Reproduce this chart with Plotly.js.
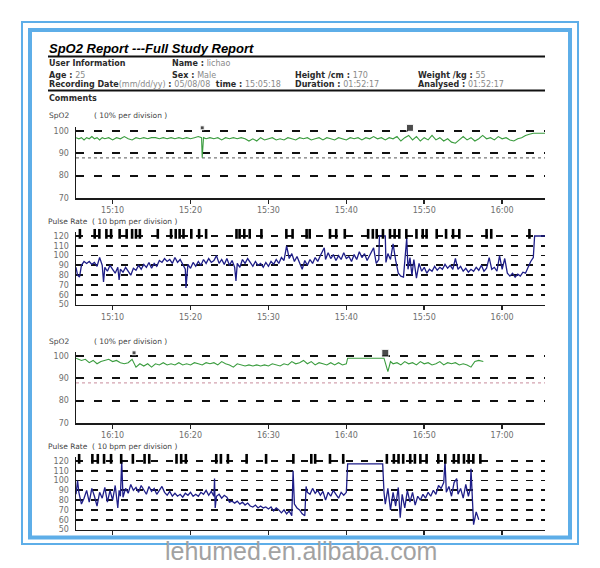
<!DOCTYPE html>
<html>
<head>
<meta charset="utf-8">
<script src="https://cdn.plot.ly/plotly-3.0.1.min.js"></script>
<style>
  html, body { margin: 0; padding: 0; background: #ffffff; }
  #chart { width: 600px; height: 568px; }
</style>
</head>
<body>
<div id="chart"></div>
<script>
// ---- Recording: SpO2 full study report ----
const DAY = '2008-05-08';
const LOW_ALARM = 88;          // SpO2 dotted reference level

const spo2TicksVals = [70, 80, 90, 100];
const pulseTickVals = [50, 60, 70, 80, 90, 100, 110, 120];

// Page 1 window: 15:05:18 .. 16:05:30
const spo2A_t = ['15:05:18','15:05:40','15:06:00','15:06:20','15:06:40','15:07:00','15:07:20','15:07:40','15:08:00','15:08:20','15:08:40','15:09:00','15:09:30','15:10:00','15:10:30','15:11:00','15:11:30','15:12:00','15:12:30','15:13:00','15:13:30','15:14:00','15:14:30','15:15:00','15:15:30','15:16:00','15:16:30','15:17:00','15:17:30','15:18:00','15:18:30','15:19:00','15:19:30','15:20:00','15:20:30','15:21:00','15:21:25','15:21:30','15:21:40','15:22:00','15:22:30','15:23:00','15:23:30','15:24:00','15:24:30','15:25:00','15:25:30','15:26:00','15:26:30','15:27:00','15:27:30','15:28:00','15:28:30','15:29:00','15:29:30','15:30:00','15:30:30','15:31:00','15:31:30','15:32:00','15:32:30','15:33:00','15:33:30','15:34:00','15:34:30','15:35:00','15:35:30','15:36:00','15:36:30','15:37:00','15:37:30','15:38:00','15:38:30','15:39:00','15:39:30','15:40:00','15:40:30','15:41:00','15:41:30','15:42:00','15:42:30','15:43:00','15:43:30','15:44:00','15:44:30','15:45:00','15:45:30','15:46:00','15:46:30','15:47:00','15:47:30','15:48:00','15:48:30','15:49:00','15:49:30','15:50:00','15:50:30','15:51:00','15:51:30','15:52:00','15:52:30','15:53:00','15:53:30','15:54:00','15:54:30','15:55:00','15:55:30','15:56:00','15:56:30','15:57:00','15:57:30','15:58:00','15:58:30','15:59:00','15:59:30','16:00:00','16:00:30','16:01:00','16:01:30','16:02:00','16:02:30','16:03:00','16:03:30','16:04:00','16:05:00','16:05:30'];
const spo2A_v = [97,96.5,97,96,97,96.5,97.5,96.5,97,96,97,96.5,97,96,97,96.5,97.5,96.5,96,97,96.5,97,96.5,97,97,96.5,97,96.5,97,96.5,97,96.5,97,96.5,97,97.5,97,88,97,96.5,97,96.5,97,96,97,96.5,97,96.5,97,96.5,95.5,96.5,95.5,97,96,96.5,97,96,96.5,96,97,96.5,96,97,96.5,97,96,96.5,97,96,97,96.5,96,97,96.5,96,97,96.5,97,96,97,96.5,97.5,96.5,97,96,97,96.5,97.5,95.5,97,98,96,97.5,95.5,97,96,98,96,97,95.5,96.5,95,94.5,96,97.5,96,97,95.5,96.5,98,96.5,97,96,97.5,96.5,97,96,95.5,96.5,97,98,98.5,99,99,99];
const spo2A_events = ['15:21:30', '15:48:10'];

const pulseA_t = ['15:05:18','15:05:30','15:05:45','15:06:00','15:06:20','15:06:40','15:07:00','15:07:20','15:07:40','15:08:00','15:08:20','15:08:40','15:08:50','15:09:00','15:09:20','15:09:40','15:10:00','15:10:20','15:10:40','15:10:50','15:11:00','15:11:20','15:11:40','15:12:00','15:12:20','15:12:40','15:13:00','15:13:20','15:13:40','15:14:00','15:14:20','15:14:40','15:15:00','15:15:20','15:15:40','15:16:00','15:16:20','15:16:40','15:17:00','15:17:20','15:17:40','15:18:00','15:18:20','15:18:40','15:19:00','15:19:20','15:19:25','15:19:40','15:20:00','15:20:20','15:20:40','15:21:00','15:21:20','15:21:40','15:22:00','15:22:20','15:22:40','15:23:00','15:23:20','15:23:40','15:24:00','15:24:20','15:24:40','15:25:00','15:25:20','15:25:40','15:25:50','15:26:00','15:26:20','15:26:40','15:27:00','15:27:20','15:27:40','15:28:00','15:28:20','15:28:40','15:29:00','15:29:20','15:29:40','15:30:00','15:30:20','15:30:40','15:31:00','15:31:20','15:31:40','15:32:00','15:32:20','15:32:40','15:33:00','15:33:20','15:33:40','15:34:00','15:34:20','15:34:40','15:35:00','15:35:20','15:35:40','15:36:00','15:36:20','15:36:40','15:37:10','15:37:20','15:37:40','15:38:00','15:38:20','15:38:40','15:39:00','15:39:20','15:39:40','15:40:00','15:40:20','15:40:40','15:41:00','15:41:20','15:41:40','15:42:00','15:42:20','15:42:40','15:43:00','15:43:30','15:43:50','15:44:10','15:44:15','15:45:00','15:45:05','15:45:20','15:45:40','15:46:00','15:46:20','15:46:40','15:47:00','15:47:20','15:47:45','15:47:55','15:48:10','15:48:25','15:48:40','15:49:00','15:49:20','15:49:40','15:50:00','15:50:20','15:50:40','15:51:00','15:51:20','15:51:40','15:52:00','15:52:20','15:52:40','15:53:00','15:53:20','15:53:40','15:54:00','15:54:20','15:54:40','15:55:00','15:55:20','15:55:40','15:56:00','15:56:20','15:56:40','15:57:00','15:57:20','15:57:40','15:58:00','15:58:20','15:58:40','15:59:00','15:59:20','15:59:40','16:00:00','16:00:20','16:00:40','16:01:00','16:01:20','16:01:40','16:02:00','16:02:20','16:02:40','16:03:00','16:03:20','16:03:40','16:04:00','16:04:10','16:05:30'];
const pulseA_v = [88,80,78,90,94,92,94,91,93,89,98,90,73,88,84,90,86,82,88,75,86,83,88,84,80,87,85,90,86,91,88,93,87,92,89,95,93,97,94,96,92,98,93,96,91,86,67,91,87,93,89,94,90,96,92,97,93,95,100,92,96,91,97,90,95,88,74,92,88,96,92,97,93,89,94,90,92,88,93,89,94,91,96,92,98,95,110,97,102,94,99,92,86,95,90,96,92,98,94,100,108,96,103,97,101,95,100,96,103,97,99,94,101,96,104,98,102,95,100,108,92,96,120,120,93,102,96,112,95,82,79,78,118,86,98,80,96,77,92,84,88,82,86,84,89,85,88,86,91,87,90,86,97,86,89,84,87,83,86,84,88,85,90,84,87,98,86,88,84,100,86,97,82,79,82,78,81,79,83,82,88,94,98,120,120];
const pulseA_events = ['15:05:48','15:07:42','15:08:18','15:09:12','15:09:48','15:10:54','15:11:48','15:12:30','15:13:00','15:13:30','15:15:48','15:17:30','15:18:06','15:18:36','15:19:06','15:20:06','15:21:06','15:22:00','15:25:54','15:26:18','15:26:54','15:27:36','15:29:06','15:32:18','15:33:06','15:34:54','15:35:18','15:37:54','15:38:42','15:39:48','15:42:48','15:43:24','15:43:54','15:44:42','15:45:36','15:46:12','15:46:48','15:47:42','15:49:00','15:49:48','15:50:18','15:51:36','15:52:48','15:53:42','15:54:30','15:58:00','15:58:36','16:03:30'];

// Page 2 window: 16:05:18 .. 17:05:30 (recording ends 16:57:35)
const spo2B_t = ['16:05:18','16:05:40','16:06:00','16:06:30','16:07:00','16:07:30','16:08:00','16:08:30','16:09:00','16:09:30','16:10:00','16:10:30','16:11:00','16:11:30','16:12:00','16:12:30','16:13:00','16:13:30','16:14:00','16:14:30','16:15:00','16:15:30','16:16:00','16:16:30','16:17:00','16:17:30','16:18:00','16:18:30','16:19:00','16:19:30','16:20:00','16:20:30','16:21:00','16:21:30','16:22:00','16:22:30','16:23:00','16:23:30','16:24:00','16:24:30','16:25:00','16:25:30','16:26:00','16:26:30','16:27:00','16:27:30','16:28:00','16:28:30','16:29:00','16:29:30','16:30:00','16:30:30','16:31:00','16:31:30','16:32:00','16:32:30','16:33:00','16:33:30','16:34:00','16:34:30','16:35:00','16:35:30','16:36:00','16:36:30','16:37:00','16:37:30','16:38:00','16:38:30','16:39:00','16:39:30','16:40:00','16:40:10','16:44:50','16:45:00','16:45:20','16:45:40','16:46:00','16:46:30','16:47:00','16:47:30','16:48:00','16:48:30','16:49:00','16:49:30','16:50:00','16:50:30','16:51:00','16:51:30','16:52:00','16:52:30','16:53:00','16:53:30','16:54:00','16:54:30','16:55:00','16:55:30','16:56:00','16:56:30','16:57:00','16:57:35'];
const spo2B_v = [99,98.5,98,98.5,97,98,96.5,97.5,98,98.5,97.5,98,97,96.5,97,98.5,95,96.5,95.5,96.5,95,96.5,96,97,96,96.5,96,97,96,96.5,96,97,96.5,96,97,96.5,97,96,97.5,96.5,96,95,96.5,96,95.5,96,95.5,96,95.5,96,95.5,96.5,96,95.5,96.5,96,97.5,96.5,97,98,96.5,97.5,96,97,96.5,96,97,96,97,96,96.5,99,99,97,93,97.5,96.5,97,96,97.5,96.5,97,96,97.5,96.5,97,96,96.5,97.5,96,97,96.5,97,96,96.5,96,95,97.5,98,97.5];
const spo2B_events = ['16:12:45', '16:45:00'];

const pulseB_t = ['16:05:18','16:05:30','16:05:40','16:06:00','16:06:20','16:06:40','16:07:00','16:07:20','16:07:40','16:08:00','16:08:20','16:08:40','16:09:00','16:09:20','16:09:40','16:10:00','16:10:20','16:10:40','16:10:50','16:11:00','16:11:10','16:11:20','16:11:40','16:12:00','16:12:20','16:12:40','16:13:00','16:13:20','16:13:40','16:14:00','16:14:20','16:14:40','16:15:00','16:15:20','16:15:40','16:16:00','16:16:20','16:16:40','16:17:00','16:17:20','16:17:40','16:18:00','16:18:20','16:18:40','16:19:00','16:19:20','16:19:40','16:20:00','16:20:20','16:20:40','16:21:00','16:21:20','16:21:40','16:22:00','16:22:20','16:22:40','16:23:00','16:23:05','16:23:10','16:23:20','16:23:40','16:24:00','16:24:20','16:24:40','16:25:00','16:25:20','16:25:40','16:26:00','16:26:20','16:26:40','16:27:00','16:27:20','16:27:40','16:28:00','16:28:20','16:28:40','16:29:00','16:29:20','16:29:40','16:30:00','16:30:20','16:30:40','16:31:00','16:31:20','16:31:40','16:32:00','16:32:20','16:32:40','16:33:00','16:33:10','16:33:20','16:33:40','16:34:00','16:34:20','16:34:40','16:34:50','16:35:00','16:35:20','16:35:40','16:36:00','16:36:20','16:36:40','16:37:00','16:37:20','16:37:40','16:38:00','16:38:20','16:38:40','16:39:00','16:39:20','16:39:40','16:40:00','16:40:10','16:44:40','16:44:50','16:45:00','16:45:20','16:45:40','16:46:00','16:46:20','16:46:40','16:46:55','16:47:10','16:47:30','16:47:50','16:48:10','16:48:30','16:48:50','16:49:10','16:49:30','16:49:50','16:50:10','16:50:30','16:50:50','16:51:10','16:51:30','16:51:50','16:52:10','16:52:30','16:52:40','16:52:50','16:53:10','16:53:30','16:53:50','16:54:10','16:54:20','16:54:40','16:55:00','16:55:20','16:55:40','16:55:55','16:56:00','16:56:20','16:56:40','16:57:00'];
const pulseB_v = [86,100,88,76,82,90,78,92,84,74,88,82,93,78,90,80,95,72,90,84,120,83,92,87,96,90,93,88,95,90,86,94,89,92,86,90,94,88,85,89,84,87,84,86,83,87,85,88,84,86,84,88,86,90,85,89,84,102,72,84,86,82,85,83,78,79,77,79,76,78,75,77,74,73,75,72,74,72,73,71,73,69,72,70,67,70,66,69,64,110,76,72,70,66,64,94,88,86,92,87,90,85,89,80,88,84,90,86,82,88,85,88,117,117,88,76,92,70,88,74,93,62,86,72,90,78,88,75,84,80,86,82,88,84,90,86,95,92,98,120,88,94,84,98,102,86,92,82,96,84,92,112,55,68,60];
const pulseB_events = ['16:05:42','16:07:24','16:08:06','16:08:54','16:09:48','16:11:06','16:12:36','16:14:06','16:14:42','16:18:12','16:18:48','16:19:24','16:23:18','16:23:54','16:24:48','16:27:12','16:29:42','16:33:12','16:35:30','16:36:00','16:37:54','16:39:36','16:45:12','16:46:06','16:46:42','16:47:18','16:48:12','16:48:48','16:49:30','16:50:18','16:51:48','16:52:42','16:53:48','16:54:24','16:55:06','16:55:42','16:56:18','16:57:12'];

// ---- helpers: page is 600x568 with zero margins, so paper fractions map to pixels ----
const W = 600, H = 568;
const px = x => x / W;
const py = y => 1 - y / H;
const T = s => DAY + ' ' + s;

const TICK_FONT = { family: 'DejaVu Sans', size: 8, color: '#6e6e6e' };
const PLOT_X = [px(76), px(545)];

function timeAxis(start, end, anchor, showLabels) {
  return {
    type: 'date', domain: PLOT_X, anchor: anchor,
    range: [T(start), T(end)],
    tick0: T(start.slice(0, 3) + '00:00'), dtick: 600000, tickformat: '%H:%M',
    ticks: 'outside', ticklen: 4, tickwidth: 1.5, tickcolor: '#222',
    showline: true, linecolor: '#1a1a1a', linewidth: 1.5,
    showgrid: false, zeroline: false, showticklabels: showLabels,
    tickfont: TICK_FONT, fixedrange: true
  };
}
function spo2Axis(bottomPx, anchor) {
  // 70..102 at 2.233 px per %
  return {
    domain: [py(bottomPx), py(bottomPx - 71.5)], anchor: anchor,
    range: [70, 102], tickvals: spo2TicksVals, ticks: '',
    showline: true, linecolor: '#1a1a1a', linewidth: 1.5,
    showgrid: true, gridcolor: '#111', gridwidth: 2, griddash: '8px,10px',
    zeroline: false, tickfont: TICK_FONT, ticklabelstandoff: 4, fixedrange: true
  };
}
function pulseAxis(bottomPx, anchor) {
  // 50..124 at 0.979 px per bpm
  return {
    domain: [py(bottomPx), py(bottomPx - 72.4)], anchor: anchor,
    range: [50, 124], tickvals: pulseTickVals, ticks: '',
    showline: true, linecolor: '#1a1a1a', linewidth: 1.5,
    showgrid: true, gridcolor: '#111', gridwidth: 1.8, griddash: '7px,8px',
    zeroline: false, tickfont: TICK_FONT, ticklabelstandoff: 4, fixedrange: true
  };
}

const SPO2_COLOR = '#3a9c3e';
const PULSE_COLOR = '#1e1e88';

function spo2Trace(t, v, xa, ya) {
  return { x: t.map(T), y: v, xaxis: xa, yaxis: ya, type: 'scatter', mode: 'lines',
           line: { color: SPO2_COLOR, width: 1.1 }, hoverinfo: 'skip' };
}
function pulseTrace(t, v, xa, ya) {
  return { x: t.map(T), y: v, xaxis: xa, yaxis: ya, type: 'scatter', mode: 'lines',
           line: { color: PULSE_COLOR, width: 1.3 }, hoverinfo: 'skip' };
}
function spo2Flags(t, xa, ya) {
  return { x: t.map(T), y: t.map(() => 101.4), xaxis: xa, yaxis: ya, type: 'scatter', mode: 'markers',
           cliponaxis: false, hoverinfo: 'skip',
           marker: { symbol: 'square', size: [4, 7], color: '#000' } };
}
function pulseFlags(t, xa, ya) {
  return { x: t.map(T), y: t.map(() => 122.2), xaxis: xa, yaxis: ya, type: 'scatter', mode: 'markers',
           cliponaxis: false, hoverinfo: 'skip',
           marker: { symbol: 'line-ns', size: 7, color: '#000', line: { color: '#000', width: 2.6 } } };
}

const data = [
  spo2Trace(spo2A_t, spo2A_v, 'x', 'y'),  spo2Flags(spo2A_events, 'x', 'y'),
  pulseTrace(pulseA_t, pulseA_v, 'x2', 'y2'), pulseFlags(pulseA_events, 'x2', 'y2'),
  spo2Trace(spo2B_t, spo2B_v, 'x3', 'y3'),  spo2Flags(spo2B_events, 'x3', 'y3'),
  pulseTrace(pulseB_t, pulseB_v, 'x4', 'y4'), pulseFlags(pulseB_events, 'x4', 'y4')
];

// ---- header / captions ----
const LBL = '#2a2a2a', VAL = '#8a8a8a';
const HFONT = { family: 'DejaVu Sans', size: 8, color: LBL };
const CAP = { family: 'DejaVu Sans', size: 7.5, color: '#444' };
function note(x, y, text, font) {
  return { xref: 'paper', yref: 'paper', x: px(x), y: py(y), xanchor: 'left', yanchor: 'middle',
           text: text, showarrow: false, font: font || HFONT, borderpad: 0 };
}
const v = s => `<span style="color:${VAL};font-weight:normal">${s}</span>`;

const annotations = [
  note(48, 49, '<b><i>SpO2 Report ---Full Study Report</i></b>',
       { family: 'Liberation Sans', size: 13, color: '#000' }),
  note(48, 64, '<b>User Information</b>'),
  note(171, 64, '<b>Name : </b>' + v('lichao')),
  note(48, 75, '<b>Age : </b>' + v('25')),
  note(171, 75, '<b>Sex : </b>' + v('Male')),
  note(294, 75, '<b>Height /cm : </b>' + v('170')),
  note(417, 75, '<b>Weight /kg : </b>' + v('55')),
  note(48, 85, '<b>Recording Date</b>' + v('(mm/dd/yy)') + '<b> : </b>' + v('05/08/08') +
               '<b>  time : </b>' + v('15:05:18')),
  note(294, 85, '<b>Duration : </b>' + v('01:52:17')),
  note(417, 85, '<b>Analysed : </b>' + v('01:52:17')),
  note(48, 98, '<b>Comments</b>'),
  note(48, 116, 'SpO2', CAP),
  note(93, 116, '( 10% per division )', CAP),
  note(47, 221, 'Pulse Rate  ( 10 bpm per division )', CAP),
  note(48, 341, 'SpO2', CAP),
  note(93, 341, '( 10% per division )', CAP),
  note(47, 446, 'Pulse Rate  ( 10 bpm per division )', CAP),
  { xref: 'paper', yref: 'paper', x: px(301), y: py(551), xanchor: 'center', yanchor: 'middle',
    text: 'lehumed.en.alibaba.com', showarrow: false,
    font: { family: 'Liberation Sans', size: 25, color: '#a2a2a2' } }
];

const FRAME = '#5eaee8';
function hline(y, x0, x1, w) {
  return { type: 'line', xref: 'paper', yref: 'paper', x0: px(x0), x1: px(x1), y0: py(y), y1: py(y),
           line: { color: '#111', width: w } };
}
function alarmLine(xa, ya, color) {
  return { type: 'line', xref: xa + ' domain', yref: ya, x0: 0, x1: 1, y0: LOW_ALARM, y1: LOW_ALARM,
           line: { color: color, width: 1.2, dash: 'dot' }, layer: 'below' };
}

const shapes = [
  hline(56.5, 48, 545, 2),
  hline(90.5, 48, 545, 2),
  alarmLine('x', 'y', '#7a7a7a'),
  alarmLine('x3', 'y3', '#d4a3b0'),
  { type: 'rect', xref: 'paper', yref: 'paper', x0: px(22), x1: px(578), y0: py(544), y1: py(22),
    line: { color: FRAME, width: 2 }, fillcolor: 'rgba(0,0,0,0)', layer: 'above' },
  { type: 'rect', xref: 'paper', yref: 'paper', x0: px(30), x1: px(570), y0: py(537.5), y1: py(30),
    line: { color: FRAME, width: 4 }, fillcolor: 'rgba(0,0,0,0)', layer: 'above' }
];

const layout = {
  width: W, height: H,
  margin: { l: 0, r: 0, t: 0, b: 0 },
  paper_bgcolor: '#ffffff', plot_bgcolor: '#ffffff',
  showlegend: false,
  xaxis:  timeAxis('15:05:18', '16:05:30', 'y', true),
  yaxis:  spo2Axis(198, 'x'),
  xaxis2: timeAxis('15:05:18', '16:05:30', 'y2', true),
  yaxis2: pulseAxis(304.5, 'x2'),
  xaxis3: timeAxis('16:05:18', '17:05:30', 'y3', true),
  yaxis3: spo2Axis(423, 'x3'),
  xaxis4: timeAxis('16:05:18', '17:05:30', 'y4', false),
  yaxis4: pulseAxis(529.5, 'x4'),
  annotations: annotations,
  shapes: shapes
};

Plotly.newPlot('chart', data, layout, { staticPlot: true, displayModeBar: false });
</script>
</body>
</html>
